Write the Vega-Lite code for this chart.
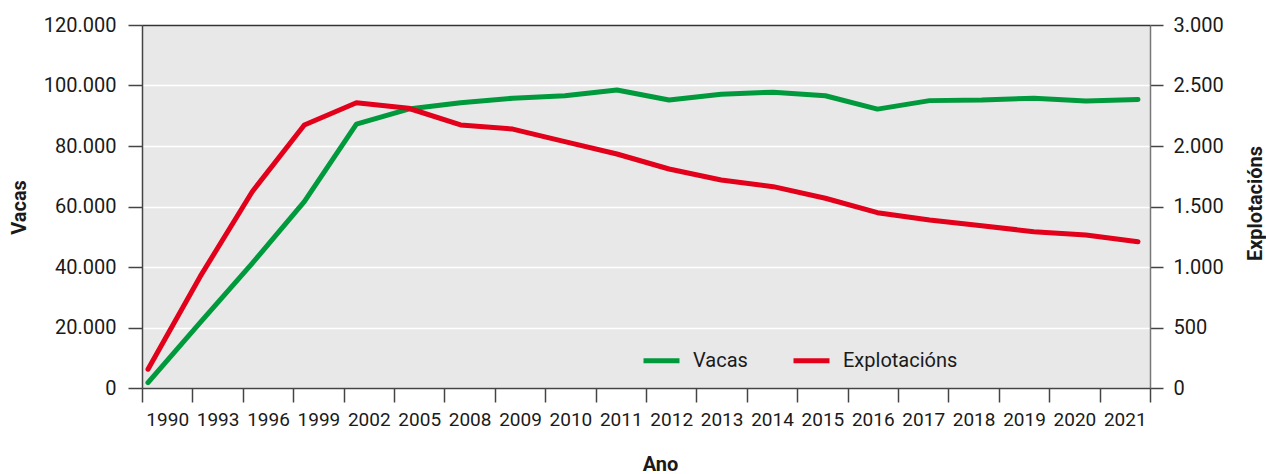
{
  "$schema": "https://vega.github.io/schema/vega-lite/v6.json",
  "width": 1008,
  "height": 363,
  "autosize": {"type": "none"},
  "padding": {"left": 142, "top": 25, "right": 116, "bottom": 86},
  "background": "white",
  "config": {
    "font": "Roboto",
    "view": {"fill": "#e8e8e8", "stroke": null},
    "axis": {
      "labelFont": "Roboto",
      "labelColor": "#1a1a1a",
      "titleFont": "Roboto",
      "titleFontWeight": "bold",
      "titleFontSize": 20,
      "titleColor": "#1a1a1a",
      "tickColor": "#444",
      "tickWidth": 1.5,
      "domainColor": "#444",
      "domainWidth": 1.5,
      "labelFontSize": 19
    }
  },
  "data": {
    "values": [
      {"Ano": 1990, "Vacas": 1750, "Explotacions": 155},
      {"Ano": 1993, "Vacas": 21600, "Explotacions": 920},
      {"Ano": 1996, "Vacas": 41200, "Explotacions": 1622},
      {"Ano": 1999, "Vacas": 61600, "Explotacions": 2174},
      {"Ano": 2002, "Vacas": 87200, "Explotacions": 2358},
      {"Ano": 2005, "Vacas": 92200, "Explotacions": 2312},
      {"Ano": 2008, "Vacas": 94300, "Explotacions": 2174},
      {"Ano": 2009, "Vacas": 95800, "Explotacions": 2140},
      {"Ano": 2010, "Vacas": 96600, "Explotacions": 2036},
      {"Ano": 2011, "Vacas": 98500, "Explotacions": 1934},
      {"Ano": 2012, "Vacas": 95200, "Explotacions": 1810},
      {"Ano": 2013, "Vacas": 97100, "Explotacions": 1719},
      {"Ano": 2014, "Vacas": 97800, "Explotacions": 1664},
      {"Ano": 2015, "Vacas": 96600, "Explotacions": 1568},
      {"Ano": 2016, "Vacas": 92200, "Explotacions": 1449},
      {"Ano": 2017, "Vacas": 95000, "Explotacions": 1388},
      {"Ano": 2018, "Vacas": 95200, "Explotacions": 1341},
      {"Ano": 2019, "Vacas": 95800, "Explotacions": 1292},
      {"Ano": 2020, "Vacas": 94900, "Explotacions": 1264},
      {"Ano": 2021, "Vacas": 95400, "Explotacions": 1209}
    ]
  },
  "layer": [
    {
      "mark": {"type": "point", "opacity": 0},
      "encoding": {
        "x": {
          "field": "Ano",
          "type": "ordinal",
          "scale": {"type": "band", "paddingInner": 0, "paddingOuter": 0},
          "axis": {
            "title": "Ano",
            "tickBand": "extent",
            "tickSize": 14,
            "labelPadding": 8,
            "labelAngle": 0,
            "labelFontSize": 19,
            "titleX": 518,
            "titleY": 76,
            "titleAlign": "center",
            "titleBaseline": "middle",
            "zindex": 1
          }
        },
        "y": {
          "field": "Vacas",
          "type": "quantitative",
          "scale": {"domain": [0, 120000]},
          "axis": null
        }
      }
    },
    {
      "mark": {"type": "line", "strokeWidth": 5, "strokeCap": "round", "strokeJoin": "round"},
      "encoding": {
        "x": {
          "field": "Ano",
          "type": "ordinal",
          "scale": {"type": "point", "padding": 0.1727, "align": 0.333},
          "axis": {"orient": "top", "labels": false, "ticks": false, "title": null, "domainColor": "#333", "zindex": 1}
        },
        "y": {
          "field": "Vacas",
          "type": "quantitative",
          "scale": {"domain": [0, 120000]},
          "axis": {
            "title": "Vacas",
            "values": [0, 20000, 40000, 60000, 80000, 100000, 120000],
            "labelExpr": "replace(format(datum.value, ','), ',', '.')",
            "grid": true,
            "gridColor": "white",
            "gridWidth": 1.5,
            "tickSize": 14,
            "labelPadding": 12,
            "labelFontSize": 20,
            "titleAngle": 270,
            "titleX": -122.5,
            "titleY": 182,
            "titleAlign": "center",
            "titleBaseline": "middle"
          }
        },
        "color": {
          "datum": "Vacas",
          "type": "nominal",
          "scale": {"domain": ["Vacas", "Explotacións"], "range": ["#009a3d", "#e2001a"]},
          "legend": {
            "orient": "none",
            "legendX": 499,
            "legendY": 315,
            "direction": "horizontal",
            "title": null,
            "symbolType": "stroke",
            "symbolSize": 1296,
            "symbolStrokeWidth": 5,
            "labelFontSize": 20,
            "labelFont": "Roboto",
            "labelColor": "#1a1a1a",
            "labelOffset": 11,
            "columnPadding": 35,
            "padding": 0
          }
        }
      }
    },
    {
      "mark": {"type": "line", "strokeWidth": 5, "strokeCap": "round", "strokeJoin": "round"},
      "encoding": {
        "x": {
          "field": "Ano",
          "type": "ordinal",
          "scale": {"type": "point", "padding": 0.1727, "align": 0.333},
          "axis": null
        },
        "y": {
          "field": "Explotacions",
          "type": "quantitative",
          "scale": {"domain": [0, 3000]},
          "axis": {
            "orient": "right",
            "title": "Explotacións",
            "values": [0, 500, 1000, 1500, 2000, 2500, 3000],
            "labelExpr": "replace(format(datum.value, ','), ',', '.')",
            "grid": false,
            "tickSize": 13,
            "labelPadding": 10,
            "labelFontSize": 20,
            "domainColor": "#777",
            "titleAngle": 270,
            "titleX": 105,
            "titleY": 178,
            "titleAlign": "center",
            "titleBaseline": "middle"
          }
        },
        "color": {"datum": "Explotacións", "type": "nominal"}
      }
    }
  ],
  "resolve": {"scale": {"x": "independent", "y": "independent"}}
}
